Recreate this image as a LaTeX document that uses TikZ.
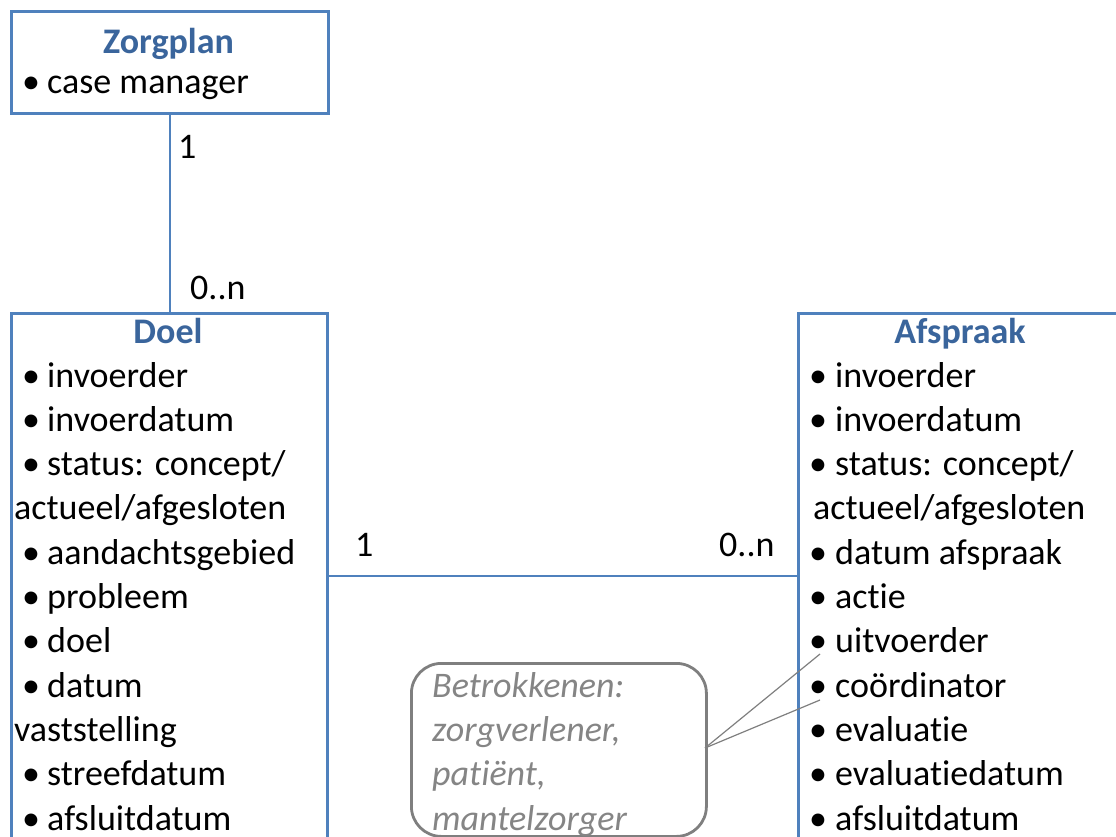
\documentclass[tikz,border=0pt]{standalone}
\usepackage{fontspec}
\setmainfont[Ligatures={NoCommon}]{Carlito}
\definecolor{boxblue}{HTML}{4F81BD}
\definecolor{titleblue}{HTML}{3A659C}
\definecolor{notegray}{HTML}{7F7F7F}
\definecolor{notetext}{HTML}{858585}
\newcommand\bul[5]{%
  \node[txt, anchor=base] (#1b) at (#2,#4) {\textbullet};
  \node[txt] (#1) at (#3,#4) {#5};}
\begin{document}
\begin{tikzpicture}[x=1pt,y=-1pt,
  box/.style={draw=boxblue, line width=2.8pt, fill=white, rectangle, inner sep=0pt},
  txt/.style={anchor=base west, inner sep=0pt, font=\fontsize{36}{44}\selectfont},
  ttl/.style={anchor=base, inner sep=0pt, font=\fontsize{36}{44}\selectfont\bfseries, text=titleblue},
  lbl/.style={anchor=base west, inner sep=0pt, font=\fontsize{36}{44}\selectfont},
  note/.style={draw=notegray, line width=2.8pt, rounded corners=30pt, rectangle, inner sep=0pt},
  notetxt/.style={anchor=base west, inner sep=0pt, font=\fontsize{36}{44}\selectfont\itshape, text=notetext},
  conn/.style={draw=boxblue, line width=2.8pt},
  pointer/.style={draw=notegray, line width=1.2pt}]
\useasboundingbox (0,0) rectangle (1116,836);
\clip (0,0) rectangle (1116,836);
% boxes
\node[box, anchor=north west, minimum width=317pt, minimum height=102pt] (zorgplan) at (10,10) {};
\node[box, anchor=north west, minimum width=316pt, minimum height=580pt] (doel) at (10,312) {};
\node[box, anchor=north west, minimum width=340pt, minimum height=580pt] (afspraak) at (797,312) {};
\node[note, anchor=north west, minimum width=295pt, minimum height=173pt] (betr) at (410,662) {};
% connectors
\draw[conn] (zorgplan.south) -- (zorgplan.south |- doel.north);
\coordinate (dl) at (326,576);
\coordinate (ar) at (797,576);
\draw[conn] (dl) -- (ar);
% multiplicities
\node[lbl] (m1) at (178,158) {1};
\node[lbl] (m2) at (190,299) {0..n};
\node[lbl] (m3) at (355,556) {1};
\node[lbl] (m4) at (719,556) {0..n};
% Zorgplan
\node[ttl] (zt) at (168.5,53.5) {Zorgplan};
\bul{z1}{31}{47}{93.5}{case manager}
% Doel
\node[ttl] (dt) at (168,343.5) {Doel};
\bul{d1}{31}{47}{387}{invoerder}
\bul{d2}{31}{47}{431.3}{invoerdatum}
\bul{d3}{31}{47}{475.6}{status: concept/}
\node[txt] (d4) at (14,519.9) {actueel/afgesloten};
\bul{d5}{31}{47}{564.2}{aandachtsgebied}
\bul{d6}{31}{47}{608.5}{probleem}
\bul{d7}{31}{47}{652.8}{doel}
\bul{d8}{31}{47}{697.1}{datum}
\node[txt] (d9) at (14,741.4) {vaststelling};
\bul{d10}{31}{47}{785.7}{streefdatum}
\bul{d11}{31}{47}{830}{afsluitdatum}
% Afspraak
\node[ttl] (at) at (960,343.5) {Afspraak};
\bul{a1}{818}{835}{387}{invoerder}
\bul{a2}{818}{835}{431.3}{invoerdatum}
\bul{a3}{818}{835}{475.6}{status: concept/}
\node[txt] (a4) at (813,519.9) {actueel/afgesloten};
\bul{a5}{818}{835}{564.2}{datum afspraak}
\bul{a6}{818}{835}{608.5}{actie}
\bul{a7}{818}{835}{652.8}{uitvoerder}
\bul{a8}{818}{835}{697.1}{coördinator}
\bul{a9}{818}{835}{741.4}{evaluatie}
\bul{a10}{818}{835}{785.7}{evaluatiedatum}
\bul{a11}{818}{835}{830}{afsluitdatum}
% note text
\node[notetxt] (n1) at (432,697.1) {Betrokkenen:};
\node[notetxt] (n2) at (432,741.4) {zorgverlener,};
\node[notetxt] (n3) at (432,785.7) {patiënt,};
\node[notetxt] (n4) at (432,830) {mantelzorger};
% pointers
\coordinate (p0) at (705,748);
\coordinate (p1) at (820,654);
\coordinate (p2) at (820,700);
\draw[pointer] (p0) -- (p1);
\draw[pointer] (p0) -- (p2);
\end{tikzpicture}
\end{document}
